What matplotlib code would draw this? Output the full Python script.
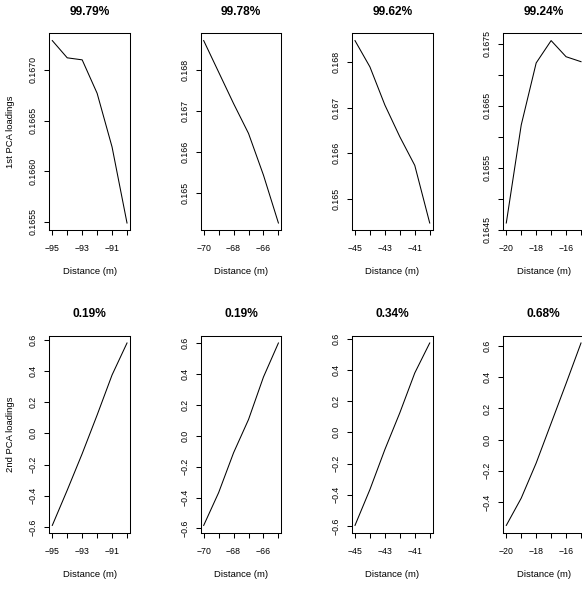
import matplotlib
matplotlib.use("Agg")
import matplotlib.pyplot as plt
import numpy as np

plt.rcParams.update({
    'font.family': ['Liberation Sans', 'DejaVu Sans'],
    'axes.linewidth': 0.75,
    'xtick.major.width': 0.75,
    'ytick.major.width': 0.75,
    'xtick.major.size': 3.6,
    'ytick.major.size': 3.6,
})

# distances (m) for each column
dist_1 = [-95, -94, -93, -92, -91, -90]
dist_2 = [-70, -69, -68, -67, -66, -65]
dist_3 = [-45, -44, -43, -42, -41, -40]
dist_4 = [-20, -19, -18, -17, -16, -15]

# 1st PCA loadings
pc1_1 = [0.16729, 0.16712, 0.16710, 0.16677, 0.16624, 0.16549]
pc1_2 = [0.16872, 0.16795, 0.16718, 0.16645, 0.16543, 0.16426]
pc1_3 = [0.16848, 0.16790, 0.16706, 0.16636, 0.16573, 0.16446]
pc1_4 = [0.16461, 0.16619, 0.16719, 0.16755, 0.16729, 0.16721]

# 2nd PCA loadings
pc2_1 = [-0.59, -0.364, -0.13, 0.118, 0.375, 0.58]
pc2_2 = [-0.58, -0.368, -0.11, 0.105, 0.38, 0.60]
pc2_3 = [-0.596, -0.366, -0.11, 0.125, 0.38, 0.572]
pc2_4 = [-0.55, -0.375, -0.15, 0.105, 0.36, 0.62]

var_pc1 = ['99.79%', '99.78%', '99.62%', '99.24%']
var_pc2 = ['0.19%', '0.19%', '0.34%', '0.68%']

dists = [dist_1, dist_2, dist_3, dist_4]
pc1 = [pc1_1, pc1_2, pc1_3, pc1_4]
pc2 = [pc2_1, pc2_2, pc2_3, pc2_4]

# y ticks (value, labelled?)
pc1_ticks = [
    ([0.1655, 0.1660, 0.1665, 0.1670], [True] * 4),
    ([0.165, 0.166, 0.167, 0.168], [True] * 4),
    ([0.165, 0.166, 0.167, 0.168], [True] * 4),
    ([0.1645, 0.1650, 0.1655, 0.1660, 0.1665, 0.1670, 0.1675],
     [True, False, True, False, True, False, True]),
]
pc1_fmt = ['{:.4f}', '{:.3f}', '{:.3f}', '{:.4f}']
pc2_ticks = [
    [-0.6, -0.4, -0.2, 0.0, 0.2, 0.4, 0.6],
    [-0.6, -0.4, -0.2, 0.0, 0.2, 0.4, 0.6],
    [-0.6, -0.4, -0.2, 0.0, 0.2, 0.4, 0.6],
    [-0.4, -0.2, 0.0, 0.2, 0.4, 0.6],
]

W, H = 582, 595
fig = plt.figure(figsize=(W / 100, H / 100), dpi=100)

lefts = [49.3, 200.7, 352.0, 503.3]
tops = [33.3, 335.7]
aw, ah = 80.7, 197.0

tick_fs = 6.3
lab_fs = 6.8
title_fs = 8.6


def style(ax, x, title, ylabel):
    ax.set_xticks(x)
    ax.set_xticklabels([f'\u2212{abs(v)}' if i % 2 == 0 else '' for i, v in enumerate(x)])
    ax.margins(x=0.04, y=0.04)
    ax.tick_params(axis='x', labelsize=tick_fs, pad=6.5)
    ax.tick_params(axis='y', labelsize=tick_fs, pad=4.5)
    for lbl in ax.get_yticklabels():
        lbl.set_rotation(90)
        lbl.set_va('center')
    ax.set_xlabel('Distance (m)', fontsize=lab_fs, va='center')
    ax.xaxis.set_label_coords(0.5, -41.7 / ah)
    if ylabel:
        ax.set_ylabel(ylabel, fontsize=lab_fs, va='center')
        ax.yaxis.set_label_coords((11 - 49.3) / aw, 0.5)
    ax.set_title(title, fontsize=title_fs, fontweight='bold', y=1 + 21.6 / ah, va='center', pad=0)


for j in range(4):
    # row 1
    ax = fig.add_axes([lefts[j] / W, 1 - (tops[0] + ah) / H, aw / W, ah / H])
    ax.plot(dists[j], pc1[j], color='black', lw=0.75)
    ticks, show = pc1_ticks[j]
    ax.set_yticks(ticks)
    ax.set_yticklabels([pc1_fmt[j].format(t) if s else '' for t, s in zip(ticks, show)])
    style(ax, dists[j], var_pc1[j], '1st PCA loadings' if j == 0 else None)

    # row 2
    ax = fig.add_axes([lefts[j] / W, 1 - (tops[1] + ah) / H, aw / W, ah / H])
    ax.plot(dists[j], pc2[j], color='black', lw=0.75)
    ax.set_yticks(pc2_ticks[j])
    ax.set_yticklabels([('\u2212' if t < 0 else '') + f'{abs(t):.1f}' for t in pc2_ticks[j]])
    style(ax, dists[j], var_pc2[j], '2nd PCA loadings' if j == 0 else None)

fig.savefig('out.png', dpi=100)
